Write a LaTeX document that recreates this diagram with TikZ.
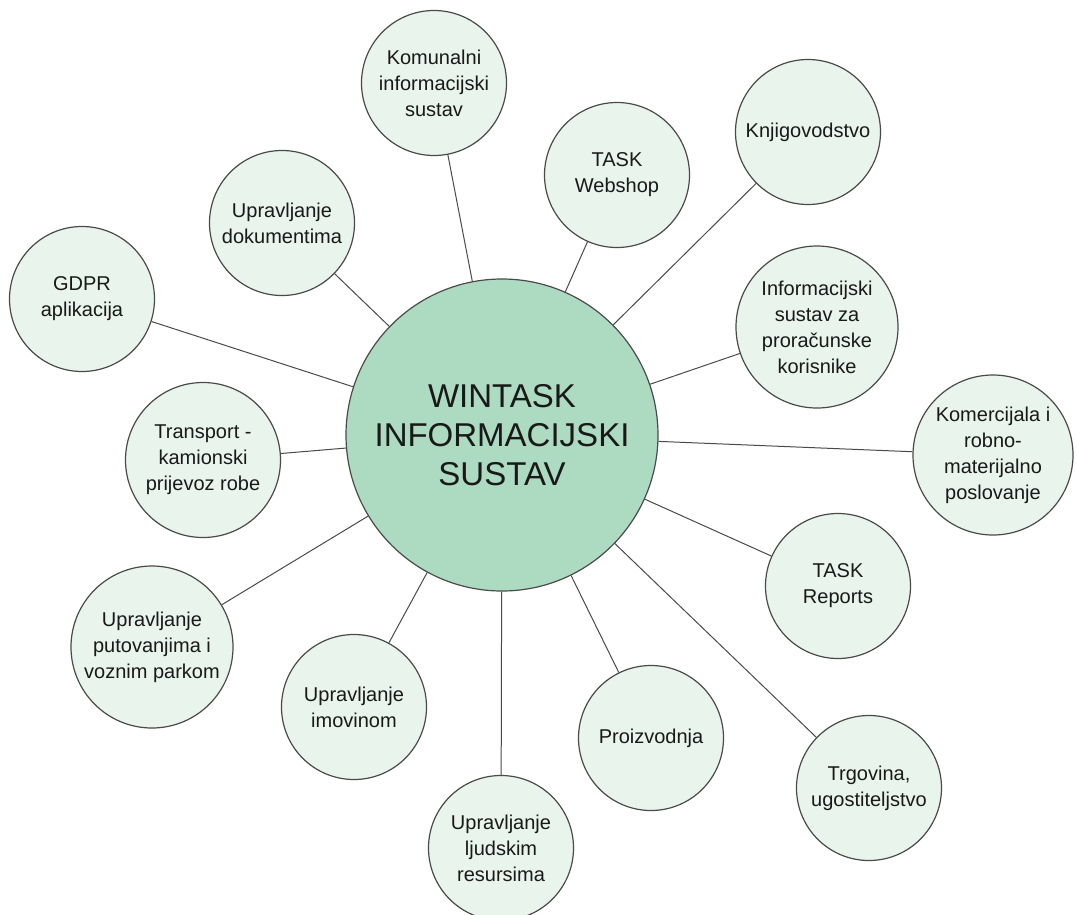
\documentclass[tikz,border=0pt]{standalone}
\usepackage{fontspec}
\setmainfont{Liberation Sans}
\definecolor{hubgreen}{HTML}{ADDBC1}
\definecolor{satgreen}{HTML}{E8F4EC}
\definecolor{rim}{HTML}{4A4A4A}

\begin{document}
\begin{tikzpicture}[x=1pt,y=-1pt,
	sat/.style={circle,draw=rim,line width=1.2pt,fill=satgreen,minimum size=145pt,inner sep=0pt,align=center,text=black!90,font=\fontsize{20}{26}\selectfont},
	hub/.style={sat,fill=hubgreen,minimum size=312pt,font=\fontsize{33}{39}\selectfont},
	every edge/.style={draw=rim,line width=1pt}]
	\useasboundingbox (0,0) rectangle (1077,914);

	\node[hub] (s_0) at (502,435) {WINTASK\\INFORMACIJSKI\\SUSTAV};

	\node[sat] (s_1) at (434,83) {Komunalni\\informacijski\\sustav};
	\node[sat] (s_2) at (617,175) {TASK\\Webshop};
	\node[sat] (s_3) at (808,132) {Knjigovodstvo};
	\node[sat,minimum size=162pt] (s_4) at (817,327) {Informacijski\\sustav za\\proračunske\\korisnike};
	\node[sat,minimum size=160pt] (s_5) at (993,455) {Komercijala i\\robno-\\materijalno\\poslovanje};
	\node[sat] (s_6) at (838,586) {TASK\\Reports};
	\node[sat] (s_7) at (869,788) {Trgovina,\\ugostiteljstvo};
	\node[sat] (s_8) at (651,738) {Proizvodnja};
	\node[sat] (s_9) at (501,848) {Upravljanje\\ljudskim\\resursima};
	\node[sat] (s_10) at (354,707) {Upravljanje\\imovinom};
	\node[sat,minimum size=162pt] (s_11) at (152,647) {Upravljanje\\putovanjima i\\voznim parkom};
	\node[sat,minimum size=155pt] (s_12) at (203,460) {Transport -\\kamionski\\prijevoz robe};
	\node[sat] (s_13) at (82,299) {GDPR\\aplikacija};
	\node[sat] (s_14) at (282,223) {Upravljanje\\dokumentima};

	\path (s_0) edge (s_1) edge (s_2) edge (s_3) edge (s_4) edge (s_5)
	            edge (s_6) edge (s_7) edge (s_8) edge (s_9) edge (s_10)
	            edge (s_11) edge (s_12) edge (s_13) edge (s_14);
\end{tikzpicture}
\end{document}
